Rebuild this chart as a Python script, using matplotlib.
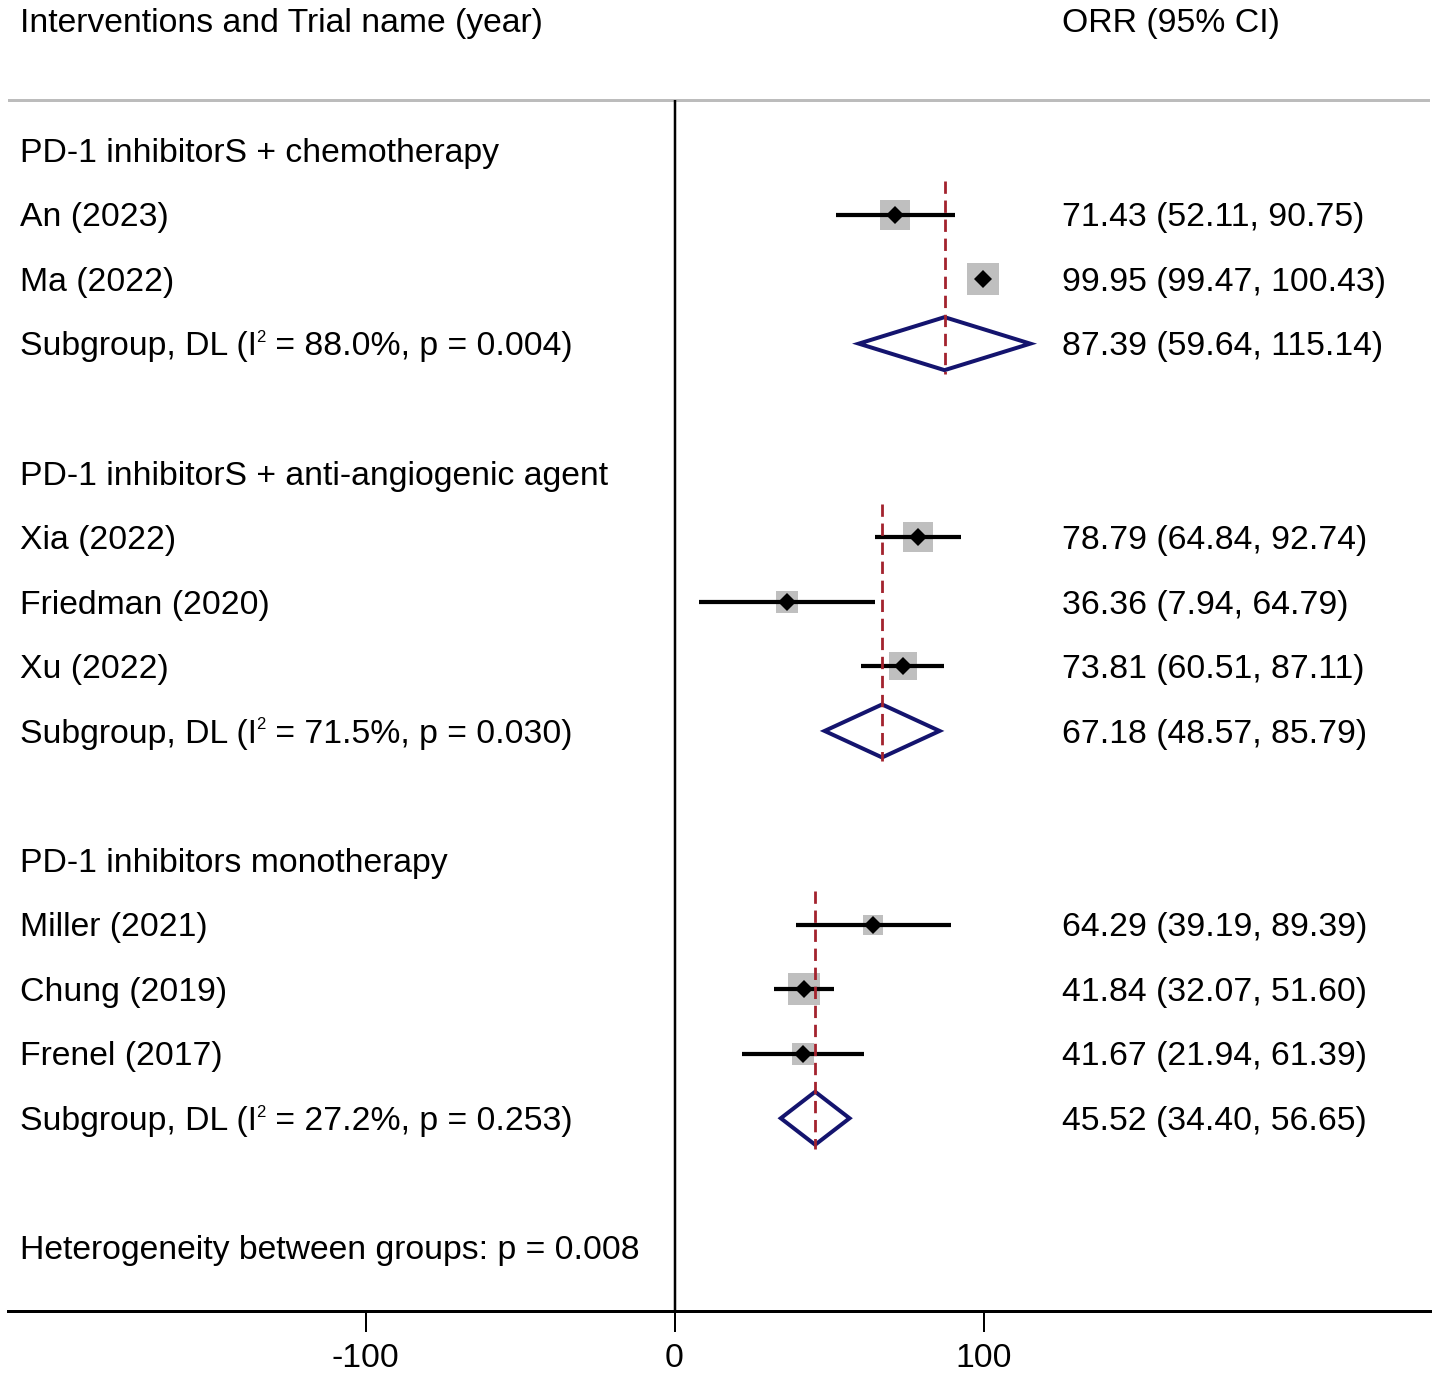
import matplotlib
matplotlib.use("Agg")
import matplotlib.pyplot as plt
from matplotlib.patches import Polygon
from matplotlib.transforms import blended_transform_factory
import numpy as np

plt.rcParams['font.family'] = ['Liberation Sans', 'DejaVu Sans']

# ------------------------------------------------------------------ data
col_headers = ["Interventions and Trial name (year)", "ORR (95% CI)"]
group_names = ["PD-1 inhibitorS + chemotherapy",
               "PD-1 inhibitorS + anti-angiogenic agent",
               "PD-1 inhibitors monotherapy"]
study_labels = [["An (2023)", "Ma (2022)"],
                ["Xia (2022)", "Friedman (2020)", "Xu (2022)"],
                ["Miller (2021)", "Chung (2019)", "Frenel (2017)"]]
study_orr = [[71.43, 99.95], [78.79, 36.36, 73.81], [64.29, 41.84, 41.67]]
study_lo = [[52.11, 99.47], [64.84, 7.94, 60.51], [39.19, 32.07, 21.94]]
study_hi = [[90.75, 100.43], [92.74, 64.79, 87.11], [89.39, 51.60, 61.39]]
study_weight = [[14.7, 17.8], [13.8, 7.9, 12.8], [6.5, 17.8, 8.6]]  # estimated % weights
sub_orr = [87.39, 67.18, 45.52]
sub_lo = [59.64, 48.57, 34.40]
sub_hi = [115.14, 85.79, 56.65]
sub_i2 = [88.0, 71.5, 27.2]
sub_p = [0.004, 0.030, 0.253]
het_p = 0.008
xticks = [-100, 0, 100]
xtick_labels = ["-100", "0", "100"]

# ------------------------------------------------------------------ layout
W, H, DPI = 1438, 1376, 100
PX2PT = 72.0 / DPI
PX_PER_UNIT = 3.09
X0_PX = 674.5
ROW0_PX = 150.0
ROW_PX = 64.55
AX_L, AX_R, AX_B = 8, 1430, 1311
FS = 24.3
BASE = 11.8 / ROW_PX          # baseline offset below row centre
BOX_K = 7.82                  # px per sqrt(weight)

fig = plt.figure(figsize=(W / DPI, H / DPI), dpi=DPI, facecolor='white')
ax = fig.add_axes([AX_L / W, (H - AX_B) / H, (AX_R - AX_L) / W, AX_B / H])
ax.set_xlim((AX_L - X0_PX) / PX_PER_UNIT, (AX_R - X0_PX) / PX_PER_UNIT)
ax.set_ylim((AX_B - ROW0_PX) / ROW_PX, (0 - ROW0_PX) / ROW_PX)
for s in ['top', 'left', 'right']:
    ax.spines[s].set_visible(False)
ax.spines['bottom'].set_linewidth(3 * PX2PT)
ax.yaxis.set_visible(False)
ax.set_xticks(xticks, xtick_labels)
ax.tick_params(axis='x', direction='out', length=21 * PX2PT, width=2 * PX2PT,
               pad=8, labelsize=FS, colors='black')

trans = blended_transform_factory(fig.transFigure, ax.transData)
label_x = 20 / W
ci_x = 1062 / W


def put(x, r, s, **kw):
    return ax.text(x, r + BASE, s, transform=trans, fontsize=FS,
                   va='baseline', ha='left', color='black', **kw)


# header & separators
hdr_r = (20 - ROW0_PX) / ROW_PX
put(label_x, hdr_r, col_headers[0])
put(ci_x, hdr_r, col_headers[1])
gray_r = (100 - ROW0_PX) / ROW_PX
ax.axhline(gray_r, color='#bcbcbc', lw=3 * PX2PT, zorder=1)
ax.plot([0, 0], [gray_r, ax.get_ylim()[0]], color='black', lw=2.5 * PX2PT,
        zorder=1, solid_capstyle='butt')

r = 0
for g in range(len(group_names)):
    put(label_x, r, group_names[g])
    r += 1
    first = r
    for i in range(len(study_labels[g])):
        est, lo, hi, w = study_orr[g][i], study_lo[g][i], study_hi[g][i], study_weight[g][i]
        put(label_x, r, study_labels[g][i])
        put(ci_x, r, f"{est:.2f} ({lo:.2f}, {hi:.2f})")
        side_pt = BOX_K * np.sqrt(w) * PX2PT
        ax.scatter([est], [r], marker='s', s=side_pt ** 2, color='#bfbfbf',
                   linewidths=0, zorder=2)
        ax.plot([lo, hi], [r, r], color='black', lw=4.2 * PX2PT,
                solid_capstyle='butt', zorder=3)
        ax.plot([est], [r], marker='D', ms=9.6, color='black', mew=0,
                linestyle='none', zorder=5)
        r += 1
    # subgroup pooled estimate
    est, lo, hi = sub_orr[g], sub_lo[g], sub_hi[g]
    hh = 26.5 / ROW_PX
    dia = Polygon([[lo, r], [est, r - hh], [hi, r], [est, r + hh]], closed=True,
                  facecolor='white', edgecolor='#14146e', lw=4 * PX2PT,
                  joinstyle='miter', zorder=3)
    ax.add_patch(dia)
    ax.plot([est, est], [first - 0.52, r + 0.47], color='#a3232e',
            lw=2.8 * PX2PT, linestyle=(0, (4.4, 2.4)), zorder=4)
    t1 = put(label_x, r, "Subgroup, DL (I")
    t2 = ax.annotate("2", xy=(1, 1), xycoords=t1, xytext=(-0.6, 1.0),
                     textcoords='offset points', fontsize=12, va='top',
                     ha='left', color='black')
    ax.annotate(f" = {sub_i2[g]:.1f}%, p = {sub_p[g]:.3f})",
                xy=(1, r + BASE), xycoords=(t2, 'data'), xytext=(0, 0),
                textcoords='offset points', fontsize=FS, va='baseline',
                ha='left', color='black')
    put(ci_x, r, f"{est:.2f} ({lo:.2f}, {hi:.2f})")
    r += 2

put(label_x, r, f"Heterogeneity between groups: p = {het_p:.3f}")

fig.savefig("out.png", dpi=DPI, facecolor='white')
